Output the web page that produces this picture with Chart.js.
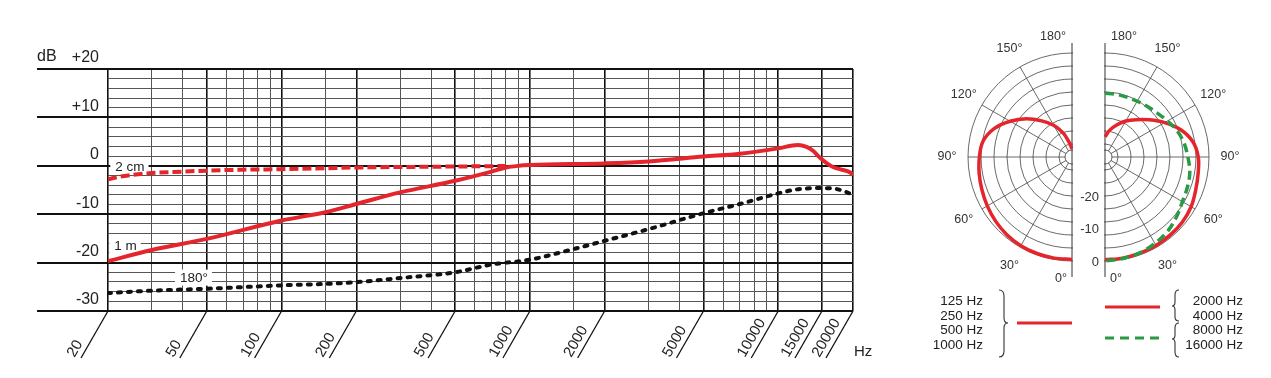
<!DOCTYPE html>
<html>
<head>
<meta charset="utf-8">
<script src="https://cdn.jsdelivr.net/npm/chart.js@4.4.1/dist/chart.umd.min.js"></script>
<style>
  html, body { margin: 0; padding: 0; background: #fff; }
  body { width: 1271px; height: 378px; position: relative; overflow: hidden;
         font-family: "Liberation Sans", Arial, sans-serif; color: #222; }
  canvas { position: absolute; }
  #freqChart { left: 0; top: 0; }
  #polarLow { left: 932px; top: 17px; }
  #polarHigh { left: 965px; top: 17px; }
  .legend { position: absolute; font-size: 13.5px; line-height: 14.5px; text-align: right; }
  svg { position: absolute; left: 0; top: 0; }
</style>
</head>
<body>
<canvas id="freqChart" width="900" height="378"></canvas>
<canvas id="polarLow" width="280" height="280"></canvas>
<canvas id="polarHigh" width="280" height="280"></canvas>

<div class="legend" style="left:910px; top:294px; width:73px;">125 Hz<br>250 Hz<br>500 Hz<br>1000 Hz</div>
<div class="legend" style="left:1170px; top:294px; width:73px;">2000 Hz<br>4000 Hz<br>8000 Hz<br>16000 Hz</div>

<svg width="1271" height="378">
  <g fill="none" stroke="#333" stroke-width="1.1">
    <path d="M999,290 Q1004,290 1004,296 L1004,318 Q1004,323 1008,323 Q1004,323 1004,328 L1004,351 Q1004,357 999,357"/>
    <path d="M1179,290 Q1175,290 1175,295 L1175,302 Q1175,306 1172,306 Q1175,306 1175,310 L1175,317 Q1175,321 1179,321"/>
    <path d="M1179,323 Q1175,323 1175,328 L1175,335 Q1175,339 1172,339 Q1175,339 1175,343 L1175,352 Q1175,357 1179,357"/>
  </g>
  <line x1="1017" y1="323" x2="1072" y2="323" stroke="#e4252c" stroke-width="3"/>
  <line x1="1105" y1="307" x2="1160" y2="307" stroke="#e4252c" stroke-width="3"/>
  <line x1="1105" y1="338" x2="1160" y2="338" stroke="#2a9a45" stroke-width="3" stroke-dasharray="9 6"/>
</svg>

<script>
// frequency response
const gridFreqs = [20, 30, 40, 50, 60, 70, 80, 90, 100, 150, 200, 300, 400, 500, 600, 700, 800, 900,
                   1000, 1500, 2000, 3000, 4000, 5000, 6000, 7000, 8000, 9000, 10000, 15000, 20000];
const labelFreqs = [20, 50, 100, 200, 500, 1000, 2000, 5000, 10000, 15000, 20000];

const freq2cm = [20, 22, 25, 30, 40, 50, 70, 100, 150, 200, 300, 500, 800];
const db2cm   = [-2.8, -2.3, -1.9, -1.5, -1.2, -1.0, -0.8, -0.7, -0.5, -0.35, -0.25, -0.15, -0.05];

const freq1m = [20, 30, 50, 100, 150, 200, 300, 500, 700, 800, 900, 1000, 2000, 3000, 5000, 7000,
                10000, 12000, 13000, 13800, 14700, 15700, 16700, 17700, 19500, 20000];
const db1m   = [-19.7, -17.4, -15.1, -11.3, -9.6, -7.9, -5.5, -3.1, -1.2, -0.35, 0, 0.15, 0.5, 0.9, 1.9, 2.5,
                3.6, 4.3, 3.9, 3.1, 1.7, 0.5, -0.3, -0.7, -1.4, -1.9];

const freqRear = [20, 30, 50, 100, 150, 200, 300, 500, 700, 1000, 1500, 2000, 3000, 5000, 7000,
                  10000, 11600, 13000, 14700, 16700, 18300, 20000];
const dbRear   = [-26.3, -25.8, -25.4, -24.7, -24.4, -24.05, -23.2, -22.0, -20.4, -19.4, -17.2, -15.5, -13.1, -9.8, -7.9,
                  -5.7, -4.95, -4.7, -4.6, -4.7, -5.2, -6.0];

// polar patterns, 0..180 degrees
const polarAngles = [0, 10, 20, 30, 40, 50, 60, 70, 80, 90, 100, 110, 120, 130, 140, 150, 160, 170, 180];
const lowBandDb  = [-0.5, -0.4, -0.4, -0.5, -0.8, -1.3, -1.9, -2.5, -3.0, -3.5, -4.2, -6.5, -10.0, -13.7, -17.5, -20.7, -24.2, -27.6, -29.5];
const midBandDb  = [-0.4, -0.4, -0.5, -0.6, -0.7, -0.9, -1.4, -2.3, -2.9, -3.3, -4.6, -7.3, -10.8, -14.2, -17.0, -19.2, -21.5, -23.6, -25.8];
const highBandDb = [0, -0.3, -0.6, -1.3, -2.1, -3.3, -4.5, -5.0, -5.5, -6.5, -7.3, -8.4, -9.8, -11.0, -11.7, -12.2, -12.4, -12.4, -12.4];
const angleTicks = [0, 30, 60, 90, 120, 150, 180];
const dbTicks = [0, -10, -20];

const RED = '#e4252c';
const GREEN = '#2a9a45';
const FONT = '"Liberation Sans", Arial, sans-serif';

Chart.defaults.font.family = FONT;
Chart.defaults.color = '#222';

const pts = (xs, ys) => xs.map((x, i) => ({ x: x, y: ys[i] }));

const freqDeco = {
    id: 'freqDeco',
    beforeDatasetsDraw(chart, args, opts) {
        const { ctx } = chart;
        const x = chart.scales.x, y = chart.scales.y;
        ctx.save();
        ctx.font = '13.5px ' + FONT;
        ctx.textBaseline = 'middle';
        opts.tags.forEach(t => {
            const px = x.getPixelForValue(t.f), py = y.getPixelForValue(t.db);
            const w = ctx.measureText(t.text).width;
            ctx.fillStyle = '#fff';
            ctx.fillRect(px - 5, py - 8, w + 9, 16);
            ctx.fillStyle = '#222';
            ctx.fillText(t.text, px, py + 1);
        });
        ctx.restore();
    },
    afterDraw(chart) {
        const { ctx } = chart;
        const x = chart.scales.x, y = chart.scales.y;
        ctx.save();
        // major dB lines run out to the left margin
        ctx.strokeStyle = '#111';
        ctx.lineWidth = 2;
        [-30, -20, -10, 0, 10, 20].forEach(v => {
            const py = Math.round(y.getPixelForValue(v));
            ctx.beginPath();
            ctx.moveTo(x.left - 71, py);
            ctx.lineTo(x.left, py);
            ctx.stroke();
        });
        // slanted tick strokes and the frequency labels along them
        ctx.lineWidth = 1.3;
        ctx.fillStyle = '#222';
        ctx.font = '15px ' + FONT;
        ctx.textBaseline = 'middle';
        ctx.textAlign = 'left';
        labelFreqs.forEach(f => {
            const px = x.getPixelForValue(f);
            ctx.beginPath();
            ctx.moveTo(px, y.bottom);
            ctx.lineTo(px - 27, y.bottom + 47);
            ctx.stroke();
            ctx.save();
            ctx.translate(px - 37, y.bottom + 45);
            ctx.rotate(-Math.PI / 3);
            ctx.fillText(String(f), 0, 0);
            ctx.restore();
        });
        ctx.fillText('Hz', x.right + 1, y.bottom + 41);
        ctx.font = '16px ' + FONT;
        ctx.fillText('dB', x.left - 71, y.getPixelForValue(20) - 12);
        ctx.restore();
    }
};

new Chart(document.getElementById('freqChart'), {
    type: 'line',
    data: {
        datasets: [
            {
                label: '2 cm',
                data: pts(freq2cm, db2cm),
                borderColor: RED,
                borderWidth: 4,
                borderDash: [9, 4]
            },
            {
                label: '1 m',
                data: pts(freq1m, db1m),
                borderColor: RED,
                borderWidth: 4
            },
            {
                label: '180°',
                data: pts(freqRear, dbRear),
                borderColor: '#111',
                borderWidth: 4,
                borderDash: [3, 7],
                borderCapStyle: 'round'
            }
        ]
    },
    options: {
        responsive: false,
        animation: false,
        layout: { padding: { top: 69, right: 47, left: 0, bottom: 0 } },
        elements: {
            point: { radius: 0 },
            line: { cubicInterpolationMode: 'monotone', fill: false }
        },
        plugins: {
            legend: { display: false },
            tooltip: { enabled: false },
            freqDeco: {
                tags: [
                    { text: '2 cm', f: 21.4, db: 0 },
                    { text: '1 m', f: 21.2, db: -16.4 },
                    { text: '180°', f: 39, db: -23.1 }
                ]
            }
        },
        scales: {
            x: {
                type: 'logarithmic',
                min: 20,
                max: 20000,
                afterBuildTicks: s => { s.ticks = gridFreqs.map(v => ({ value: v })); },
                afterFit: s => { s.height = 67; },
                ticks: { display: false, autoSkip: false },
                grid: {
                    drawTicks: false,
                    color: c => c.tick && labelFreqs.includes(c.tick.value) ? '#111' : '#555',
                    lineWidth: c => c.tick && labelFreqs.includes(c.tick.value) ? 1.6 : 1
                },
                border: { display: false }
            },
            y: {
                min: -30,
                max: 20,
                afterFit: s => { s.width = 108; },
                ticks: {
                    stepSize: 2,
                    autoSkip: false,
                    padding: 9,
                    labelOffset: -11,
                    font: { size: 16 },
                    callback: v => v % 10 === 0 ? (v > 0 ? '+' + v : String(v)) : ''
                },
                grid: {
                    drawTicks: false,
                    color: c => c.tick && c.tick.value % 10 === 0 ? '#111' : '#555',
                    lineWidth: c => c.tick && c.tick.value % 10 === 0 ? 2 : 1
                },
                border: { display: false }
            }
        }
    },
    plugins: [freqDeco]
});

// polar plots: radar charts, each one showing only one half
const angleCats = [];
for (let a = 0; a < 360; a += 10) angleCats.push(a + '°');

function leftHalf(vals) {
    const out = angleCats.map(() => null);
    vals.forEach((v, i) => { out[i] = v; });
    return out;
}
function rightHalf(vals) {
    const out = angleCats.map(() => null);
    vals.forEach((v, i) => { out[(angleCats.length - i) % angleCats.length] = v; });
    return out;
}

const polarDeco = {
    id: 'polarDeco',
    beforeDraw(chart, args, o) {
        const r = chart.scales.r, ctx = chart.ctx;
        ctx.save();
        ctx.beginPath();
        if (o.side === 'left') ctx.rect(0, 0, r.xCenter + 1, chart.height);
        else ctx.rect(r.xCenter - 1, 0, chart.width, chart.height);
        ctx.clip();
    },
    beforeDatasetsDraw(chart) {
        const r = chart.scales.r, ctx = chart.ctx;
        const cx = r.xCenter, cy = r.yCenter, R = r.drawingArea;
        ctx.save();
        ctx.strokeStyle = '#333';
        ctx.fillStyle = '#fff';
        ctx.lineWidth = 0.8;
        ctx.beginPath();
        ctx.arc(cx, cy, 7, 0, Math.PI * 2);
        ctx.fill();
        ctx.stroke();
        ctx.lineWidth = 1;
        ctx.beginPath();
        ctx.moveTo(cx, cy - R - 10);
        ctx.lineTo(cx, cy + R + 16);
        ctx.stroke();
        ctx.restore();
    },
    afterDraw(chart, args, o) {
        const r = chart.scales.r, ctx = chart.ctx;
        ctx.restore();
        ctx.save();
        ctx.fillStyle = '#333';
        ctx.font = '12.5px ' + FONT;
        ctx.textAlign = 'center';
        ctx.textBaseline = 'middle';
        const dir = o.side === 'left' ? -1 : 1;
        const n = angleCats.length;
        angleTicks.forEach(a => {
            const idx = o.side === 'left' ? a / 10 : (n - a / 10) % n;
            const edge = a === 0 || a === 180;
            const p = r.getPointPosition(idx, r.drawingArea + (a === 180 ? 16 : a === 0 ? 18 : 21));
            const shift = edge ? dir * (a === 0 ? 11 : 19) : 0;
            ctx.fillText(a + '°', p.x + shift, p.y);
        });
        if (o.dbLabels) {
            ctx.textAlign = 'right';
            ctx.font = '13px ' + FONT;
            dbTicks.forEach(v => {
                ctx.fillText(String(v), r.xCenter - 6, r.yCenter + r.getDistanceFromCenterForValue(v) + 1);
            });
        }
        ctx.restore();
    }
};

function polarChart(id, side, datasets, dbLabels) {
    return new Chart(document.getElementById(id), {
        type: 'radar',
        data: { labels: angleCats, datasets: datasets },
        options: {
            responsive: false,
            animation: false,
            layout: { padding: 36 },
            elements: {
                point: { radius: 0 },
                line: { tension: 0.35, fill: false }
            },
            plugins: {
                legend: { display: false },
                tooltip: { enabled: false },
                polarDeco: { side: side, dbLabels: dbLabels }
            },
            scales: {
                r: {
                    min: -32,
                    max: 0,
                    startAngle: 180,
                    ticks: { display: false, stepSize: 4 },
                    pointLabels: { display: false },
                    grid: { circular: true, color: '#444', lineWidth: 0.8 },
                    angleLines: {
                        color: '#444',
                        lineWidth: c => (c.index % 3 === 0 && c.index % 18 !== 0) ? 0.8 : 0
                    }
                }
            }
        },
        plugins: [polarDeco]
    });
}

polarChart('polarLow', 'left', [
    { label: '125-1000 Hz', data: leftHalf(lowBandDb), borderColor: RED, borderWidth: 3.5 }
], false);

polarChart('polarHigh', 'right', [
    { label: '8000/16000 Hz', data: rightHalf(highBandDb), borderColor: GREEN, borderWidth: 3.5, borderDash: [9, 5] },
    { label: '2000/4000 Hz', data: rightHalf(midBandDb), borderColor: RED, borderWidth: 3.5 }
], true);
</script>
</body>
</html>
